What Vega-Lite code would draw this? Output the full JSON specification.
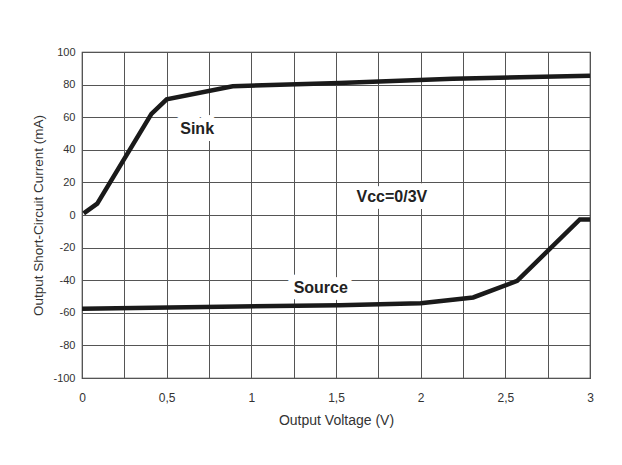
{
  "$schema": "https://vega.github.io/schema/vega-lite/v6.json",
  "width": 508,
  "height": 326,
  "autosize": "none",
  "padding": {"left": 82, "top": 52, "right": 32, "bottom": 87},
  "background": "white",
  "config": {
    "font": "Liberation Sans",
    "view": {"stroke": "#333333", "strokeWidth": 1.2}
  },
  "datasets": {
    "curves": [
      {"series": "Sink", "v": 0.01, "i": 1},
      {"series": "Sink", "v": 0.09, "i": 7},
      {"series": "Sink", "v": 0.41, "i": 62},
      {"series": "Sink", "v": 0.5, "i": 71},
      {"series": "Sink", "v": 0.89, "i": 79},
      {"series": "Sink", "v": 1.52, "i": 81},
      {"series": "Sink", "v": 2.19, "i": 83.6},
      {"series": "Sink", "v": 3.0, "i": 85.5},
      {"series": "Source", "v": 0.0, "i": -57.5},
      {"series": "Source", "v": 1.52, "i": -55.3},
      {"series": "Source", "v": 2.0, "i": -54.2},
      {"series": "Source", "v": 2.31, "i": -50.6},
      {"series": "Source", "v": 2.57, "i": -40.4},
      {"series": "Source", "v": 2.94, "i": -2.7},
      {"series": "Source", "v": 3.0, "i": -2.7}
    ],
    "labels": [
      {"label": "Sink", "v": 0.68, "i": 53},
      {"label": "Vcc=0/3V", "v": 1.83, "i": 11},
      {"label": "Source", "v": 1.41, "i": -44.5}
    ]
  },
  "encoding": {
    "x": {
      "field": "v",
      "type": "quantitative",
      "scale": {"domain": [0, 3], "nice": false, "zero": false},
      "axis": {
        "values": [0, 0.25, 0.5, 0.75, 1, 1.25, 1.5, 1.75, 2, 2.25, 2.5, 2.75, 3],
        "labelExpr": "datum.value % 0.5 == 0 ? replace('' + datum.value, '.', ',') : ''",
        "labelOverlap": false,
        "grid": true,
        "gridColor": "#555555",
        "gridOpacity": 1,
        "ticks": false,
        "domain": false,
        "labelPadding": 14,
        "labelFontSize": 12,
        "labelColor": "#333333",
        "labelFlush": false,
        "title": "Output Voltage (V)",
        "titleFontSize": 14,
        "titleFontWeight": "normal",
        "titleColor": "#333333",
        "titlePadding": 10
      }
    },
    "y": {
      "field": "i",
      "type": "quantitative",
      "scale": {"domain": [-100, 100], "nice": false, "zero": false},
      "axis": {
        "values": [-100, -80, -60, -40, -20, 0, 20, 40, 60, 80, 100],
        "labelExpr": "'' + datum.value",
        "labelOverlap": false,
        "grid": true,
        "gridColor": "#555555",
        "gridOpacity": 1,
        "ticks": false,
        "domain": false,
        "labelPadding": 7,
        "labelFontSize": 11,
        "labelColor": "#333333",
        "labelFlush": false,
        "title": "Output Short-Circuit Current (mA)",
        "titleFontSize": 13.5,
        "titleFontWeight": "normal",
        "titleColor": "#333333",
        "titlePadding": 7
      }
    }
  },
  "layer": [
    {
      "data": {"name": "labels"},
      "mark": {"type": "text", "fontWeight": "bold", "fontSize": 16, "stroke": "white", "strokeWidth": 14, "strokeJoin": "round", "fill": "white"},
      "encoding": {"text": {"field": "label"}}
    },
    {
      "data": {"name": "labels"},
      "mark": {"type": "text", "fontWeight": "bold", "fontSize": 16, "color": "#222222"},
      "encoding": {"text": {"field": "label"}}
    },
    {
      "data": {"name": "curves"},
      "mark": {"type": "line", "color": "#1a1a1a", "strokeWidth": 4.5},
      "encoding": {"detail": {"field": "series"}}
    }
  ]
}
